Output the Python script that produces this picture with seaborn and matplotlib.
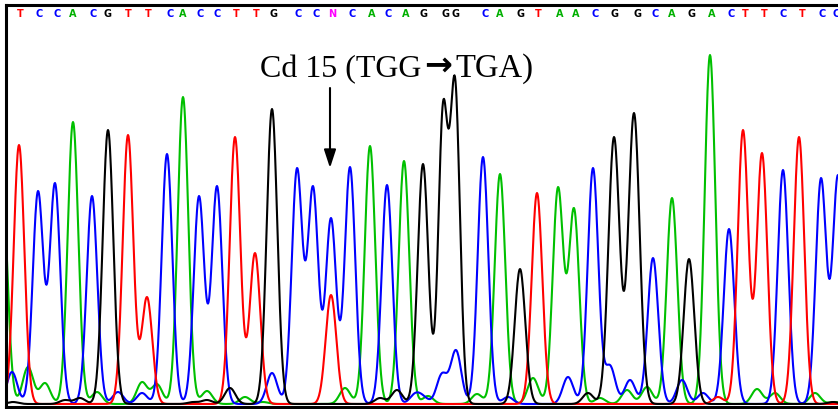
import numpy as np
import pandas as pd
import matplotlib
matplotlib.use("Agg")
import matplotlib.pyplot as plt
import seaborn as sns

# ---- data (scan position, peak top as pixel row; signal = BASE - row) ----
BASE = 404

red_pos = [19, 128, 147, 235, 255, 331, 537, 718, 743, 762, 799]
red_top = [145, 135, 297, 137, 253, 295, 193, 397, 130, 153, 137]

blue_pos = [12, 38, 55, 92, 118, 142, 167, 199, 217, 272, 297, 313, 331, 350, 387,
            415, 423, 442, 456, 483, 508, 568, 593, 610, 630, 653, 682, 703, 729,
            783, 821, 838]
blue_top = [372, 191, 183, 196, 392, 393, 154, 196, 186, 373, 168, 186, 218, 167, 185,
            393, 395, 373, 350, 157, 397, 377, 168, 365, 380, 258, 380, 393, 229,
            170, 178, 175]

green_pos = [2, 28, 45, 73, 97, 142, 157, 183, 207, 245, 263, 345, 370, 404, 428,
             477, 500, 533, 558, 574, 600, 627, 647, 672, 710, 757, 775, 815, 835]
green_top = [180, 367, 383, 122, 392, 382, 384, 97, 391, 397, 402, 388, 146, 161, 396,
             394, 174, 378, 187, 208, 398, 390, 387, 198, 55, 389, 393, 393, 402]

black_pos = [13, 65, 80, 108, 193, 207, 230, 272, 380, 397, 423, 443, 455, 520, 588,
             614, 634, 689, 833]
black_top = [402, 400, 398, 130, 402, 400, 388, 109, 398, 390, 164, 102, 77, 269, 393,
             137, 113, 259, 402]
black_width = [5.3] * 11 + [4.7, 4.9] + [5.3, 5.3, 5.6, 5.6, 5.3, 5.3]

bases = list("TCCACGTTCACCTTGCCNCACAGGGCAGTAACGGCAGACTTCTCC")
base_pos = [20, 39, 57, 73, 93, 107, 128, 148, 170, 183, 200, 217, 236, 256, 273,
            298, 316, 332, 352, 372, 388, 406, 423, 445, 455, 485, 500, 520, 538,
            560, 576, 595, 614, 637, 655, 672, 691, 712, 731, 745, 764, 783, 802,
            822, 836]

title_left = "Cd 15 (TGG"
title_arrow = "\u2192"
title_right = "TGA)"
arrow_x = 330

channel_colors = {"T": "#ff0000", "C": "#0000ff", "A": "#00c000", "G": "#000000"}
letter_colors = {"T": "#ff0000", "C": "#0000ff", "A": "#00b000", "G": "#000000", "N": "#ff00ff"}

# ---- build traces (sum of peaks per channel) ----
SIG = 5.3
xs = np.arange(0, 845, 0.5)


def trace(pos, top, width=None):
    pos = np.asarray(pos, float)
    w = np.full(len(pos), SIG) if width is None else np.asarray(width, float)
    h = BASE - np.asarray(top, float)
    G = np.exp(-(pos[:, None] - pos[None, :]) ** 2 / (2 * w[None, :] ** 2))
    amp = np.clip(np.linalg.solve(G, h), 0, None)
    return (amp[None, :] * np.exp(-(xs[:, None] - pos[None, :]) ** 2 / (2 * w[None, :] ** 2))).sum(1)


frames = []
for ch, args in {"A": (green_pos, green_top), "C": (blue_pos, blue_top),
                 "T": (red_pos, red_top), "G": (black_pos, black_top, black_width)}.items():
    frames.append(pd.DataFrame({"x": xs, "signal": trace(*args), "channel": ch}))
df = pd.concat(frames, ignore_index=True)

# ---- plot ----
sns.set_style("white")
W, H = 838, 409
fig = plt.figure(figsize=(W / 100, H / 100), dpi=100)
ax = fig.add_axes([6 / W, 2.5 / H, 1 - 6 / W, (406.5 - 5) / H])

sns.lineplot(data=df, x="x", y="signal", hue="channel", palette=channel_colors,
             estimator=None, sort=True, legend=False, linewidth=1.5, ax=ax)

ax.set_xlim(6, 838)
ax.set_ylim(-2.5, 399)
ax.set_xticks([])
ax.set_yticks([])
ax.set_xlabel("")
ax.set_ylabel("")
for s in ["top", "left", "bottom"]:
    ax.spines[s].set_color("black")
    ax.spines[s].set_linewidth(2.2)
    ax.spines[s].set_visible(True)
ax.spines["right"].set_visible(False)

for b, x in zip(bases, base_pos):
    ax.text(x, BASE - 14.5, b, color=letter_colors[b], fontsize=7, fontweight="bold",
            ha="center", va="center", family=["DejaVu Sans"])

serif = ["Liberation Serif", "DejaVu Serif"]
ax.text(421, BASE - 77, title_left, fontsize=23, ha="right", va="baseline",
        family=serif, color="black")
ax.text(455, BASE - 77, title_right, fontsize=23.5, ha="left", va="baseline",
        family=serif, color="black")
ax.text(438, BASE - 65, title_arrow, fontsize=24, ha="center", va="center",
        family=["DejaVu Sans"], fontweight="bold", color="black")

ax.annotate("", xy=(arrow_x, BASE - 168), xytext=(arrow_x, BASE - 88),
            arrowprops=dict(arrowstyle="-|>,head_length=0.55,head_width=0.18",
                            color="black", lw=1.5, mutation_scale=20, shrinkA=0, shrinkB=0))

fig.savefig("out.png", dpi=100)
